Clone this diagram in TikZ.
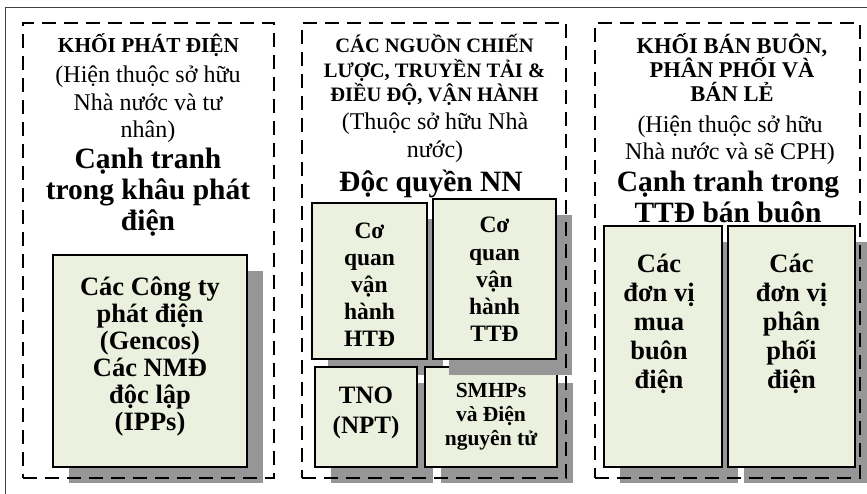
\documentclass[tikz,border=0pt]{standalone}
\usepackage{fontspec}
\setmainfont{Liberation Serif}
\usetikzlibrary{shadows}
\definecolor{boxgreen}{HTML}{EBF1DE}
\definecolor{shadowgray}{HTML}{969696}
\definecolor{framegray}{HTML}{404040}
\tikzset{
  panel/.style={draw=black, line width=2.6pt, dash pattern=on 14pt off 8pt, inner sep=0pt, outer sep=0pt},
  gbox/.style={draw=black, line width=1.5pt, fill=boxgreen, inner sep=0pt, outer sep=0pt,
    drop shadow={shadow xshift=16pt, shadow yshift=-16pt, fill=shadowgray, opacity=1}},
  txt/.style={align=center, inner sep=0pt, anchor=base},
  ftitle/.style={font=\fontsize{20.5}{24.5}\selectfont\bfseries},
  fsub/.style={font=\fontsize{24}{27.5}\selectfont},
  fbig/.style={font=\fontsize{29.5}{31}\selectfont\bfseries},
}
\begin{document}
\begin{tikzpicture}[x=1pt,y=-1pt]
\useasboundingbox[fill=white] (0,0) rectangle (867,494);
\coordinate (fbl) at (5.5,494);
\coordinate (ftl) at (5.5,7.5);
\coordinate (ftr) at (867,7.5);
\draw[framegray, line width=1.2pt] (fbl) -- (ftl) -- (ftr);

% boxes (drawing order matters for shadows)
\node[gbox, minimum width=194pt, minimum height=212pt] (gen) at (150,361) {};
\node[gbox, minimum width=115pt, minimum height=156pt] (htd) at (369.5,281) {};
\node[gbox, minimum width=102pt, minimum height=100pt] (tno) at (366,417) {};
\node[gbox, minimum width=132pt, minimum height=100pt] (smhp) at (491,417) {};
\node[gbox, minimum width=123pt, minimum height=160pt] (ttd) at (494.5,279) {};
\node[gbox, minimum width=118pt, minimum height=241pt] (mua) at (663,346.5) {};
\node[gbox, minimum width=127pt, minimum height=241pt] (pp) at (791.5,346.5) {};

% (text nodes are anchored at the baseline of their LAST line)
% panel 1 texts
\node[txt, ftitle, font=\fontsize{21.3}{24.5}\selectfont\bfseries] (t1) at (148.5,53) {KHỐI PHÁT ĐIỆN};
\node[txt, fsub] (s1) at (148,138) {(Hiện thuộc sở hữu\\Nhà nước và tư\\nhân)};
\node[txt, fbig] (b1) at (148,231) {Cạnh tranh\\trong khâu phát\\điện};

% panel 2 texts
\node[txt, ftitle] (t2) at (434.5,102) {CÁC NGUỒN CHIẾN\\LƯỢC, TRUYỀN TẢI \&\\ĐIỀU ĐỘ, VẬN HÀNH};
\node[txt, fsub] (s2) at (435,157.5) {(Thuộc sở hữu Nhà\\nước)};
\node[txt, fbig] (b2) at (431,192) {Độc quyền NN};

% panel 3 texts
\node[txt, font=\fontsize{22.5}{24}\selectfont\bfseries] (t3) at (732,102) {KHỐI BÁN BUÔN,\\PHÂN PHỐI VÀ\\BÁN LẺ};
\node[txt, fsub] (s3) at (730,160) {(Hiện thuộc sở hữu\\Nhà nước và sẽ CPH)};
\node[txt, fbig] (b3) at (728,223) {Cạnh tranh trong\\TTĐ bán buôn};

% box texts
\node[txt, font=\fontsize{26.5}{27}\selectfont\bfseries] (gentx) at (gen.center |- 0,430) {Các Công ty\\phát điện\\(Gencos)\\Các NMĐ\\độc lập\\(IPPs)};
\node[txt, font=\fontsize{23.5}{27}\selectfont\bfseries] (htdtx) at (htd.center |- 0,346) {Cơ\\quan\\vận\\hành\\HTĐ};
\node[txt, font=\fontsize{23.5}{27}\selectfont\bfseries] (ttdtx) at (ttd.center |- 0,341) {Cơ\\quan\\vận\\hành\\TTĐ};
\node[txt, font=\fontsize{25}{30}\selectfont\bfseries] (tnotx) at (tno.center |- 0,433) {TNO\\(NPT)};
\node[txt, font=\fontsize{21.5}{24}\selectfont\bfseries] (smhptx) at (smhp.center |- 0,445) {SMHPs\\và Điện\\nguyên tử};
\node[txt, font=\fontsize{26.5}{29}\selectfont\bfseries] (muatx) at (659,388) {Các\\đơn vị\\mua\\buôn\\điện};
\node[txt, font=\fontsize{26.5}{29}\selectfont\bfseries] (pptx) at (791.5,388) {Các\\đơn vị\\phân\\phối\\điện};

% dashed panels (on top of shadows)
\node[panel, minimum width=251pt, minimum height=455pt] (p1) at (148.5,250.5) {};
\node[panel, minimum width=264pt, minimum height=455pt] (p2) at (434,250.5) {};
\node[panel, minimum width=265pt, minimum height=455pt] (p3) at (727.5,250.5) {};
\end{tikzpicture}
\end{document}
